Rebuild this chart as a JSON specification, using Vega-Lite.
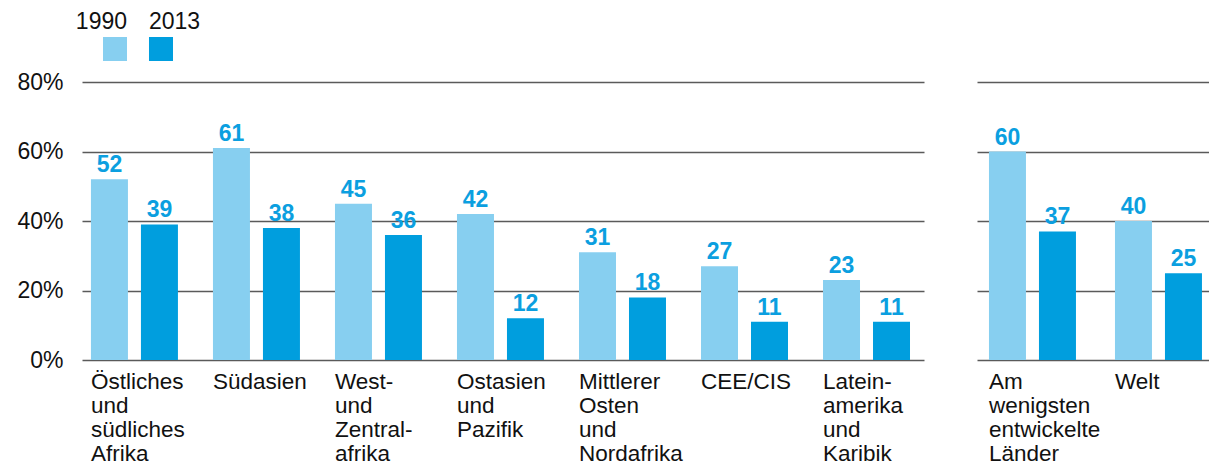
{
  "$schema": "https://vega.github.io/schema/vega-lite/v6.json",
  "padding": {"left": 16, "top": 11, "right": 0, "bottom": 0},
  "autosize": {"type": "pad"},
  "background": "white",
  "config": {
    "view": {"stroke": null},
    "font": "Liberation Sans",
    "axis": {"labelFont": "Liberation Sans", "labelColor": "#111111"}
  },
  "datasets": {
    "legend": [{"year": "1990"}, {"year": "2013"}],
    "left": [
      {"group": "Östliches|und|südliches|Afrika", "year": "1990", "value": 52},
      {"group": "Östliches|und|südliches|Afrika", "year": "2013", "value": 39},
      {"group": "Südasien", "year": "1990", "value": 61},
      {"group": "Südasien", "year": "2013", "value": 38},
      {"group": "West-|und|Zentral-|afrika", "year": "1990", "value": 45},
      {"group": "West-|und|Zentral-|afrika", "year": "2013", "value": 36},
      {"group": "Ostasien|und|Pazifik", "year": "1990", "value": 42},
      {"group": "Ostasien|und|Pazifik", "year": "2013", "value": 12},
      {"group": "Mittlerer|Osten|und|Nordafrika", "year": "1990", "value": 31},
      {"group": "Mittlerer|Osten|und|Nordafrika", "year": "2013", "value": 18},
      {"group": "CEE/CIS", "year": "1990", "value": 27},
      {"group": "CEE/CIS", "year": "2013", "value": 11},
      {"group": "Latein-|amerika|und|Karibik", "year": "1990", "value": 23},
      {"group": "Latein-|amerika|und|Karibik", "year": "2013", "value": 11}
    ],
    "right": [
      {"group": "Am|wenigsten|entwickelte|Länder", "year": "1990", "value": 60},
      {"group": "Am|wenigsten|entwickelte|Länder", "year": "2013", "value": 37},
      {"group": "Welt", "year": "1990", "value": 40},
      {"group": "Welt", "year": "2013", "value": 25}
    ]
  },
  "spacing": 10,
  "vconcat": [
    {
      "width": 91,
      "height": 24,
      "data": {"name": "legend"},
      "layer": [
        {
          "mark": {"type": "rect"},
          "encoding": {
            "x": {"field": "year", "type": "nominal", "scale": {"paddingInner": 0.478, "paddingOuter": 0.2283, "align": 1}, "axis": null},
            "color": {"field": "year", "type": "nominal", "scale": {"domain": ["1990", "2013"], "range": ["#87cff0", "#009ede"]}, "legend": null}
          }
        },
        {
          "transform": [{"filter": "datum.year == '1990'"}],
          "mark": {"type": "text", "align": "right", "baseline": "alphabetic", "dy": -20, "fontSize": 23, "color": "#111111"},
          "encoding": {
            "x": {"field": "year", "type": "nominal", "bandPosition": 1},
            "text": {"field": "year", "type": "nominal"}
          }
        },
        {
          "transform": [{"filter": "datum.year == '2013'"}],
          "mark": {"type": "text", "align": "left", "baseline": "alphabetic", "dy": -20, "fontSize": 23, "color": "#111111"},
          "encoding": {
            "x": {"field": "year", "type": "nominal", "bandPosition": 0},
            "text": {"field": "year", "type": "nominal"}
          }
        }
      ]
    },
    {
      "spacing": 53,
      "hconcat": [
        {
          "width": 842,
          "height": 278,
          "data": {"name": "left"},
          "encoding": {
            "x": {
              "field": "group", "type": "nominal", "sort": null,
              "scale": {"paddingInner": 0.287, "paddingOuter": 0.094, "align": 0.39},
              "axis": {"title": null, "labelExpr": "split(datum.value, '|')", "labelAlign": "left", "labelBaseline": "top", "labelOffset": -43.5, "labelAngle": 0, "domain": false, "ticks": false, "tickSize": 0, "labelPadding": 10, "labelFontSize": 22.5, "labelLineHeight": 24, "labelLimit": 0, "grid": false}
            },
            "xOffset": {"field": "year", "type": "nominal", "scale": {"paddingInner": 0.26, "paddingOuter": 0}},
            "y": {
              "field": "value", "type": "quantitative",
              "scale": {"domain": [0, 80]},
              "axis": {"title": null, "values": [0, 20, 40, 60, 80], "labelExpr": "datum.value + '%'", "domain": false, "ticks": false, "tickSize": 0, "labelPadding": 19, "labelFontSize": 23, "grid": true, "gridColor": "#5a5a5a", "gridWidth": 1.5}
            }
          },
          "layer": [
            {
              "mark": {"type": "bar"},
              "encoding": {
                "color": {"field": "year", "type": "nominal", "scale": {"domain": ["1990", "2013"], "range": ["#87cff0", "#009ede"]}, "legend": null}
              }
            },
            {
              "mark": {"type": "text", "baseline": "alphabetic", "dy": -7, "fontWeight": "bold", "fontSize": 23, "color": "#0b9fe0"},
              "encoding": {"text": {"field": "value", "type": "quantitative"}}
            }
          ]
        },
        {
          "width": 232,
          "height": 278,
          "data": {"name": "right"},
          "encoding": {
            "x": {
              "field": "group", "type": "nominal", "sort": null,
              "scale": {"paddingInner": 0.3095, "paddingOuter": 0.0754, "align": 0.63},
              "axis": {"title": null, "labelExpr": "split(datum.value, '|')", "labelAlign": "left", "labelBaseline": "top", "labelOffset": -43.5, "labelAngle": 0, "domain": false, "ticks": false, "tickSize": 0, "labelPadding": 10, "labelFontSize": 22.5, "labelLineHeight": 24, "labelLimit": 0, "grid": false}
            },
            "xOffset": {"field": "year", "type": "nominal", "scale": {"paddingInner": 0.26, "paddingOuter": 0}},
            "y": {
              "field": "value", "type": "quantitative",
              "scale": {"domain": [0, 80]},
              "axis": {"title": null, "values": [0, 20, 40, 60, 80], "labels": false, "domain": false, "ticks": false, "tickSize": 0, "labelPadding": 0, "grid": true, "gridColor": "#5a5a5a", "gridWidth": 1.5}
            }
          },
          "layer": [
            {
              "mark": {"type": "bar"},
              "encoding": {
                "color": {"field": "year", "type": "nominal", "scale": {"domain": ["1990", "2013"], "range": ["#87cff0", "#009ede"]}, "legend": null}
              }
            },
            {
              "mark": {"type": "text", "baseline": "alphabetic", "dy": -7, "fontWeight": "bold", "fontSize": 23, "color": "#0b9fe0"},
              "encoding": {"text": {"field": "value", "type": "quantitative"}}
            }
          ]
        }
      ]
    }
  ]
}
